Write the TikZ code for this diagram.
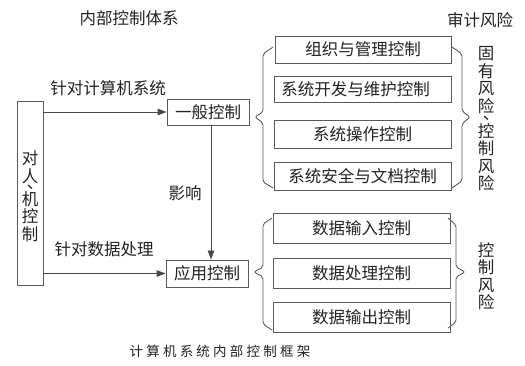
\documentclass[tikz,border=0pt]{standalone}
\usepackage{fontspec}
\setmainfont{Noto Sans CJK SC}
\newfontfamily\tcfont{Noto Sans CJK TC}
\newfontfamily\capfont[LetterSpace=24]{Noto Sans CJK SC}
\usetikzlibrary{arrows.meta}
\definecolor{linec}{HTML}{5A5A5A}
\definecolor{textc}{HTML}{222222}
\newcommand{\dunhao}{{\tcfont 、}}
\tikzset{
  box/.style={draw=linec, line width=0.9pt, inner sep=0pt, text=textc,
    font=\fontsize{16.5}{18}\selectfont},
  lab/.style={inner sep=0pt, text=textc, font=\fontsize{16.5}{18}\selectfont},
  vlab/.style={inner sep=0pt, text=textc, align=center, font=\fontsize{16.5}{17.5}\selectfont},
  arr/.style={draw=linec!80!black, line width=0.9pt, -{Triangle[length=9pt,width=6.5pt]}},
  brace/.style={draw=linec, line width=0.9pt, rounded corners=2pt}
}
\begin{document}
\begin{tikzpicture}[x=1pt,y=-1pt]
\useasboundingbox[fill=white] (0,0) rectangle (525,366);
% titles
\node[lab] (tin) at (129,18) {内部控制体系};
\node[lab] (tau) at (480,20) {审计风险};
% left box
\node[box, minimum width=26pt, minimum height=184pt] (lb) at (30,193) {};
\node[vlab] (lbt) at (30,196) {对\\人\\[-6pt]\dunhao\\[-6pt]机\\控\\制};
% middle boxes
\node[box, minimum width=82pt, minimum height=26pt] (gen) at (208,112) {一般控制};
\node[box, minimum width=82pt, minimum height=27pt] (app) at (207,273.5) {应用控制};
% labels
\node[lab] (l1) at (108,88) {针对计算机系统};
\node[lab] (l2) at (104,249) {针对数据处理};
\node[lab] (l3) at (185,193) {影响};
% arrows
\draw[arr] (lb.east |- gen.west) -- (gen.west);
\draw[arr] (lb.east |- app.west) -- (app.west);
\draw[arr] ([xshift=3pt]gen.south) -- ([xshift=3pt]gen.south |- app.north);
% top group
\node[box, minimum width=176pt, minimum height=27pt] (t1) at (363,49.5) {组织与管理控制};
\node[box, minimum width=177pt, minimum height=26pt] (t2) at (362.5,89) {\hspace*{-14pt}系统开发与维护控制};
\node[box, minimum width=177pt, minimum height=28pt] (t3) at (362.5,134) {系统操作控制};
\node[box, minimum width=177pt, minimum height=28pt] (t4) at (362.5,176) {系统安全与文档控制};
% bottom group
\node[box, minimum width=177pt, minimum height=30pt] (b1) at (361.5,228) {数据输入控制};
\node[box, minimum width=177pt, minimum height=30pt] (b2) at (361.5,273) {数据处理控制};
\node[box, minimum width=177pt, minimum height=30pt] (b3) at (361.5,317) {数据输出控制};
% braces
\draw[brace] (273,47) -- (263,54) -- (263,112) -- (255,117) -- (263,123) -- (263,182) -- (273,188);
\draw[brace] (452,47) -- (462,54) -- (462,111) -- (470,117) -- (462,124) -- (462,181) -- (452,188);
\draw[brace] (272,218) -- (263,224) -- (263,267) -- (254,272) -- (263,277) -- (263,324) -- (272,330);
\draw[brace] (448,218) -- (456,225) -- (456,267) -- (465,272) -- (456,277) -- (456,322) -- (448,328);
% right vertical labels
\node[vlab] (r1) at (486,119) {固\\有\\风\\险\\[-5pt]\dunhao\\[-5pt]控\\制\\风\\险};
\node[vlab] (r2) at (486,276) {控\\制\\风\\险};
% caption
\node[inner sep=0pt, text=textc, font=\capfont\fontsize{13.5}{15}\selectfont] (cap) at (220,351) {计算机系统内部控制框架};
\end{tikzpicture}
\end{document}
